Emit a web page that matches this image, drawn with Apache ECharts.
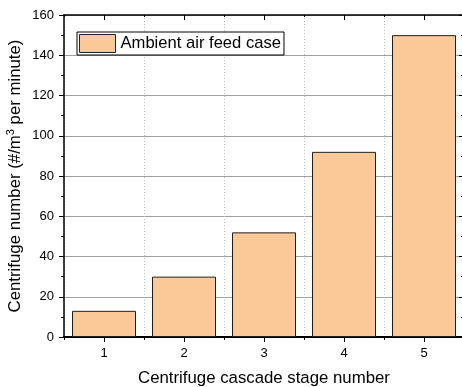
<!DOCTYPE html>
<html><head><meta charset="utf-8">
<script src="https://cdn.jsdelivr.net/npm/echarts@6/dist/echarts.min.js"></script>
<style>html,body{margin:0;padding:0;background:#fff}#c{width:462px;height:387px}</style>
</head><body><div id="c"></div>
<script>
const categories = ['1', '2', '3', '4', '5'];
const values = [13, 30, 52, 92, 150];
const seriesName = 'Ambient air feed case';
const xName = 'Centrifuge cascade stage number';
const yName = 'Centrifuge number (#/m{sup|3} per minute)';

const font = 'Arial, "Liberation Sans", sans-serif';
const chart = echarts.init(document.getElementById('c'), null, {renderer: 'canvas'});
const blank = {show: false};
chart.setOption({
  animation: false,
  backgroundColor: '#fff',
  grid: {left: 64, right: -2, top: 15, bottom: 50, containLabel: false, outerBoundsMode: 'none'},
  legend: {
    left: 77, top: 32, orient: 'horizontal',
    data: [seriesName],
    itemWidth: 36, itemHeight: 18, itemGap: 4,
    padding: [2, 3, 2, 2],
    borderColor: '#000', borderWidth: 1, backgroundColor: '#fff',
    itemStyle: {borderWidth: 1, borderColor: '#222'},
    textStyle: {fontFamily: font, fontSize: 16.6, color: '#000', padding: [0, 0, 0, 0]},
    icon: 'rect'
  },
  xAxis: [
    {type: 'category', data: categories, position: 'bottom',
     name: xName, nameLocation: 'middle', nameGap: 33,
     nameTextStyle: {fontFamily: font, fontSize: 16.8, color: '#000'},
     axisLine: {show: true, lineStyle: {color: '#000', width: 2}},
     axisTick: {show: true, length: 3, lineStyle: {color: '#000'}},
     axisLabel: {fontFamily: font, fontSize: 13, color: '#000', margin: 10},
     splitLine: {show: true, lineStyle: {color: '#c0c0c0', type: [1, 2], width: 1}}},
    {type: 'category', data: categories, position: 'bottom',
     axisLine: blank, axisLabel: blank, splitLine: blank,
     axisTick: {show: true, alignWithLabel: true, length: 5, lineStyle: {color: '#000'}}},
    {type: 'category', data: categories, position: 'top',
     axisLine: {show: true, lineStyle: {color: '#000', width: 1.5}}, axisLabel: blank, splitLine: blank,
     axisTick: {show: true, inside: true, length: 2, lineStyle: {color: '#000'}}},
    {type: 'category', data: categories, position: 'top',
     axisLine: blank, axisLabel: blank, splitLine: blank,
     axisTick: {show: true, inside: true, alignWithLabel: true, length: 5, lineStyle: {color: '#000'}}}
  ],
  yAxis: [
    {type: 'value', min: 0, max: 160, interval: 20, position: 'left',
     name: yName, nameLocation: 'middle', nameGap: 39, nameMoveOverlap: false,
     nameTextStyle: {fontFamily: font, fontSize: 16.8, color: '#000',
       rich: {sup: {fontFamily: font, fontSize: 11, color: '#000', verticalAlign: 'bottom', padding: [0, 0, 9, 0]}}},
     axisLine: {show: true, lineStyle: {color: '#000', width: 1.5}},
     axisTick: {show: true, length: 5, lineStyle: {color: '#000'}},
     minorTick: {show: true, splitNumber: 2, length: 3, lineStyle: {color: '#000'}},
     axisLabel: {fontFamily: font, fontSize: 13, color: '#000', margin: 10},
     splitLine: {show: true, lineStyle: {color: '#a0a0a0', width: 1}}},
    {type: 'value', min: 0, max: 160, interval: 20, position: 'right',
     axisLine: {show: true, lineStyle: {color: '#000', width: 1.5}},
     axisTick: {show: true, inside: true, length: 5, lineStyle: {color: '#000'}},
     minorTick: {show: true, splitNumber: 2, length: 3, lineStyle: {color: '#000'}},
     axisLabel: blank, splitLine: blank}
  ],
  series: [{
    name: seriesName, type: 'bar', data: values, xAxisIndex: 0, yAxisIndex: 0,
    barCategoryGap: '20%',
    itemStyle: {color: '#FBC998', borderColor: '#222', borderWidth: 1}
  }]
});
</script></body></html>
